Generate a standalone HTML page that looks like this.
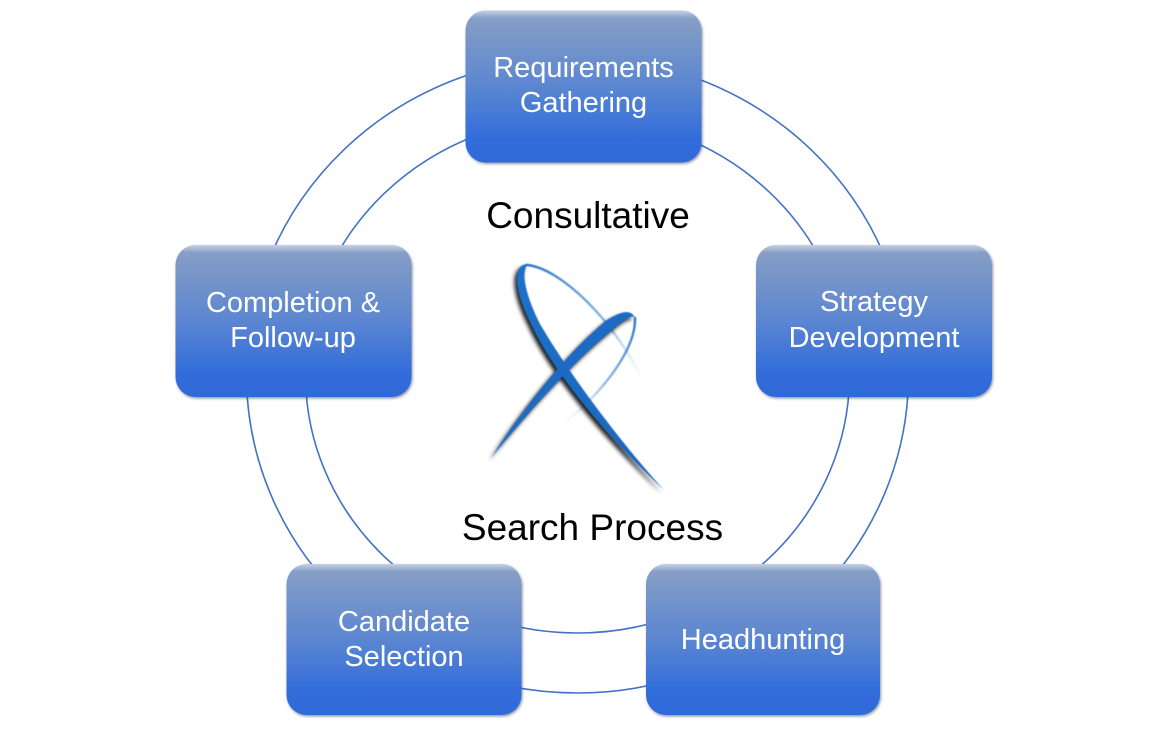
<!DOCTYPE html>
<html>
<head>
<meta charset="utf-8">
<style>
  html,body{margin:0;padding:0;background:#ffffff;}
  body{width:1150px;height:735px;overflow:hidden;}
  svg{display:block;}
  .bt{font-family:"Liberation Sans",Arial,sans-serif;font-size:29px;fill:#ffffff;}
  .ct{font-family:"Liberation Sans",Arial,sans-serif;font-size:37px;fill:#000000;}
</style>
</head>
<body>
<svg width="1150" height="735" viewBox="0 0 1150 735" xmlns="http://www.w3.org/2000/svg">
  <defs>
    <linearGradient id="bg" x1="0" y1="0" x2="0" y2="1">
      <stop offset="0" stop-color="#8ca3c9"/>
      <stop offset="0.1" stop-color="#809bc6"/>
      <stop offset="0.5" stop-color="#5b86d1"/>
      <stop offset="0.85" stop-color="#316cdb"/>
      <stop offset="1" stop-color="#2f6ad8"/>
    </linearGradient>
    <linearGradient id="hl" x1="0" y1="0" x2="0" y2="1">
      <stop offset="0" stop-color="#ffffff" stop-opacity="0.5"/>
      <stop offset="0.05" stop-color="#ffffff" stop-opacity="0"/>
      <stop offset="1" stop-color="#ffffff" stop-opacity="0"/>
    </linearGradient>
    <filter id="sh" x="-10%" y="-10%" width="120%" height="125%">
      <feDropShadow dx="1" dy="1.5" stdDeviation="1.4" flood-color="#1a2a50" flood-opacity="0.5"/>
    </filter>
    <filter id="blur2" x="-20%" y="-20%" width="140%" height="140%">
      <feGaussianBlur stdDeviation="2"/>
    </filter>
    <filter id="blur05" x="-20%" y="-20%" width="140%" height="140%">
      <feGaussianBlur stdDeviation="0.6"/>
    </filter>
    <linearGradient id="fade1" gradientUnits="userSpaceOnUse" x1="527" y1="266" x2="645" y2="385">
      <stop offset="0" stop-color="#2a78c8" stop-opacity="1"/>
      <stop offset="0.6" stop-color="#4d8fd0" stop-opacity="0.6"/>
      <stop offset="1" stop-color="#c8d6e6" stop-opacity="0"/>
    </linearGradient>
    <linearGradient id="fade2" gradientUnits="userSpaceOnUse" x1="635" y1="318" x2="560" y2="426">
      <stop offset="0" stop-color="#2a78c8" stop-opacity="1"/>
      <stop offset="0.55" stop-color="#4d8fd0" stop-opacity="0.6"/>
      <stop offset="1" stop-color="#c8d6e6" stop-opacity="0"/>
    </linearGradient>
    <linearGradient id="blueS" x1="0" y1="0" x2="1" y2="1">
      <stop offset="0" stop-color="#1f70c8"/>
      <stop offset="1" stop-color="#1a66bd"/>
    </linearGradient>
  </defs>

  <!-- ring ellipses -->
  <ellipse cx="577.5" cy="375" rx="331" ry="318" fill="none" stroke="#4472c4" stroke-width="1.6"/>
  <ellipse cx="577.5" cy="375" rx="272" ry="258" fill="none" stroke="#4472c4" stroke-width="1.6"/>

  <!-- center text -->
  <text class="ct" x="588" y="228" text-anchor="middle">Consultative</text>
  <text class="ct" x="592.5" y="540" text-anchor="middle">Search Process</text>

  <!-- logo -->
  <g>
    <path d="M527 265 C560 268 615 320 645 385" fill="none" stroke="url(#fade1)" stroke-width="2.4" stroke-linecap="round" filter="url(#blur05)"/>
    <path d="M635 318 C636 345 612 378 586 404 C576 414 568 420 560 426" fill="none" stroke="url(#fade2)" stroke-width="2.4" stroke-linecap="round" filter="url(#blur05)"/>
    <g transform="translate(-2.5,3)" opacity="0.9" filter="url(#blur2)">
      <path d="M664 490 C610 440 552 372 530 322 C514 290 512 264 528 264 C520 272 526 296 540 324 C568 372 620 442 664 490 Z" fill="#000"/>
      <path d="M491 458 C528 412 575 360 612 330 C624 320 632 314 635 318 C631 308 620 312 607 320 C570 350 526 404 491 458 Z" fill="#000"/>
    </g>
    <g filter="url(#blur05)">
      <path d="M664 490 C610 440 552 372 530 322 C514 290 512 264 528 264 C520 272 526 296 540 324 C568 372 620 442 664 490 Z" fill="url(#blueS)"/>
      <path d="M491 458 C528 412 575 360 612 330 C624 320 632 314 635 318 C631 308 620 312 607 320 C570 350 526 404 491 458 Z" fill="url(#blueS)"/>
    </g>
  </g>

  <!-- boxes -->
  <g filter="url(#sh)">
    <rect x="465.5" y="10.5" width="236" height="152" rx="20" fill="url(#bg)"/>
    <rect x="756" y="245" width="236" height="152" rx="20" fill="url(#bg)"/>
    <rect x="175.5" y="245" width="236" height="152" rx="20" fill="url(#bg)"/>
    <rect x="286.5" y="564" width="235" height="151" rx="20" fill="url(#bg)"/>
    <rect x="646" y="564" width="234" height="151" rx="20" fill="url(#bg)"/>
  </g>
  <g>
    <rect x="465.5" y="10.5" width="236" height="152" rx="20" fill="url(#hl)"/>
    <rect x="756" y="245" width="236" height="152" rx="20" fill="url(#hl)"/>
    <rect x="175.5" y="245" width="236" height="152" rx="20" fill="url(#hl)"/>
    <rect x="286.5" y="564" width="235" height="151" rx="20" fill="url(#hl)"/>
    <rect x="646" y="564" width="234" height="151" rx="20" fill="url(#hl)"/>
  </g>

  <!-- box labels -->
  <text class="bt" x="583.5" y="77" text-anchor="middle">Requirements</text>
  <text class="bt" x="583.5" y="112" text-anchor="middle">Gathering</text>

  <text class="bt" x="874" y="311" text-anchor="middle">Strategy</text>
  <text class="bt" x="874" y="347" text-anchor="middle">Development</text>

  <text class="bt" x="293" y="312" text-anchor="middle">Completion &amp;</text>
  <text class="bt" x="293" y="347" text-anchor="middle">Follow-up</text>

  <text class="bt" x="404" y="631" text-anchor="middle">Candidate</text>
  <text class="bt" x="404" y="666" text-anchor="middle">Selection</text>

  <text class="bt" x="763" y="649" text-anchor="middle">Headhunting</text>
</svg>
</body>
</html>
